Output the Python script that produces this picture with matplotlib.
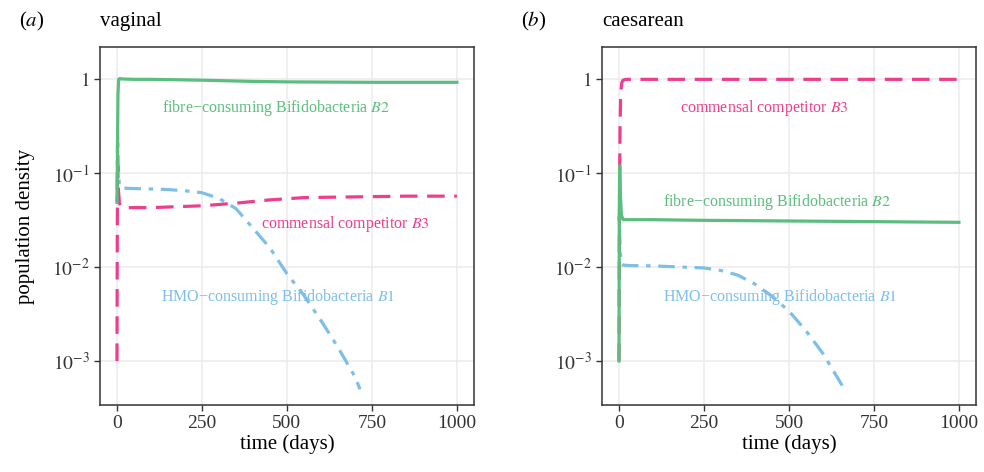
import numpy as np
import matplotlib
matplotlib.use('Agg')
import matplotlib.pyplot as plt

plt.rcParams['font.family'] = ['Liberation Serif', 'DejaVu Serif']
plt.rcParams['mathtext.fontset'] = 'stix'

GREEN = '#5BBD7E'
PINK = '#EE3D8C'
BLUE = '#7DBFE8'

# vaginal birth
vag_b2_t = [0, 1, 2, 3, 5, 8, 15, 50, 100, 250, 400, 500, 750, 1000]
vag_b2 = [0.049, 0.1, 0.3, 0.7, 1.0, 1.02, 1.01, 1.0, 1.0, 0.98, 0.95, 0.94, 0.93, 0.93]
vag_b1_t = [0, 1, 2, 4, 7, 12, 30, 100, 150, 200, 250, 300, 350, 400, 450, 500, 550,
            600, 650, 700, 715]
vag_b1 = [0.05, 0.15, 0.25, 0.12, 0.075, 0.07, 0.069, 0.068, 0.067, 0.065, 0.062, 0.054,
          0.042, 0.026, 0.016, 0.0085, 0.005, 0.0027, 0.0014, 0.00068, 0.0005]
vag_b3_t = [0, 1, 2, 4, 7, 12, 30, 100, 250, 350, 450, 550, 700, 850, 1000]
vag_b3 = [0.001, 0.03, 0.12, 0.07, 0.048, 0.044, 0.043, 0.043, 0.045, 0.048, 0.052, 0.055,
          0.056, 0.057, 0.057]

# caesarean birth
cs_b3_t = [0, 1, 2, 3, 5, 8, 12, 20, 100, 1000]
cs_b3 = [0.001, 0.02, 0.1, 0.3, 0.7, 0.92, 0.98, 1.0, 1.0, 1.0]
cs_b2_t = [0, 1, 2, 4, 7, 12, 20, 100, 250, 500, 750, 1000]
cs_b2 = [0.001, 0.05, 0.12, 0.06, 0.036, 0.032, 0.032, 0.032, 0.0315, 0.031, 0.0305, 0.030]
cs_b1_t = [0, 2, 4, 7, 12, 30, 100, 250, 300, 350, 400, 450, 500, 550, 600, 650, 663]
cs_b1 = [0.035, 0.022, 0.014, 0.011, 0.0105, 0.0104, 0.0103, 0.0098, 0.0092, 0.0082,
         0.0066, 0.0049, 0.0034, 0.0021, 0.0012, 0.0006, 0.0005]

label_b1 = 'HMO\u2212consuming Bifidobacteria $B1$'
label_b2 = 'fibre\u2212consuming Bifidobacteria $B2$'
label_b3 = 'commensal competitor $B3$'

panels = [
    ('($a$)', 'vaginal', (vag_b1_t, vag_b1), (vag_b2_t, vag_b2), (vag_b3_t, vag_b3),
     [(473, 0.0048), (468, 0.5), (671, 0.029)]),
    ('($b$)', 'caesarean', (cs_b1_t, cs_b1), (cs_b2_t, cs_b2), (cs_b3_t, cs_b3),
     [(475, 0.0048), (466, 0.049), (428, 0.49)]),
]

fig = plt.figure(figsize=(9.84, 4.72), dpi=100)
lefts = [0.1016, 0.6118]

for i, (tag, title, b1, b2, b3, lab_pos) in enumerate(panels):
    ax = fig.add_axes([lefts[i], 0.142, 0.380, 0.758])
    ax.set_yscale('log')
    ax.set_xlim(-50, 1050)
    ax.set_ylim(3.4e-4, 2.2)
    ax.grid(True, color='#EBEBEB', linewidth=1.1)
    ax.minorticks_off()
    ax.set_axisbelow(True)

    ax.plot(b1[0], b1[1], color=BLUE, lw=2.3, dashes=(1.4, 2.4, 5.2, 2.4),
            dash_capstyle='butt')
    ax.plot(b3[0], b3[1], color=PINK, lw=2.3, dashes=(5.5, 3.0), dash_capstyle='butt')
    ax.plot(b2[0], b2[1], color=GREEN, lw=2.3)

    for (x, y), txt, c in zip(lab_pos, [label_b1, label_b2, label_b3], [BLUE, GREEN, PINK]):
        ax.text(x, y, txt, color=c, fontsize=11.5, ha='center', va='center')

    ax.set_xticks([0, 250, 500, 750, 1000])
    ax.set_yticks([1e-3, 1e-2, 1e-1, 1])
    ax.set_yticklabels(['$10^{-3}$', '$10^{-2}$', '$10^{-1}$', '$1$'])
    ax.tick_params(labelsize=14, length=4, width=1, color='#333333', labelcolor='#333333')
    for s in ax.spines.values():
        s.set_color('#333333')
        s.set_linewidth(1.1)
    ax.set_xlabel('time (days)', fontsize=15, labelpad=1)
    if i == 0:
        ax.set_ylabel('population density', fontsize=15, labelpad=12)

    fig.text(lefts[i] - 0.082, 0.955, tag, fontsize=15, va='center', ha='left')
    fig.text(lefts[i], 0.955, title, fontsize=15, va='center', ha='left')

fig.savefig('out.png', dpi=100)
